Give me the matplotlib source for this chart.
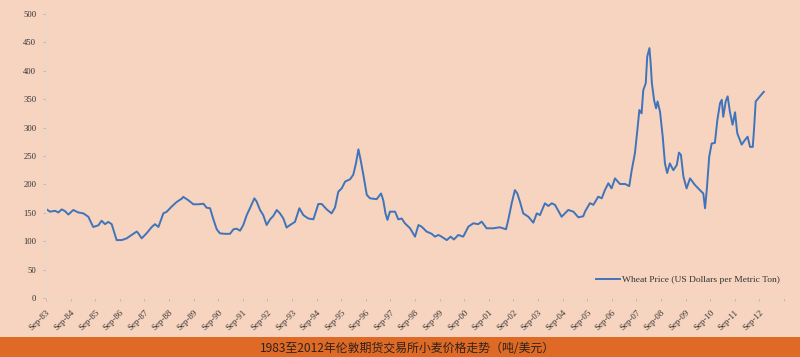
import matplotlib
matplotlib.use("Agg")
import matplotlib.pyplot as plt

# ---- data (decimal year, US$/t) ----
dates = [
    1983.70, 1983.83, 1984.04, 1984.17, 1984.31, 1984.44, 1984.58, 1984.78, 1984.98, 1985.19,
    1985.39, 1985.59, 1985.80, 1985.93, 1986.07, 1986.20, 1986.34, 1986.54, 1986.75, 1986.95,
    1987.15, 1987.36, 1987.42, 1987.56, 1987.76, 1987.97, 1988.10, 1988.24, 1988.44, 1988.58,
    1988.78, 1988.98, 1989.19, 1989.25, 1989.46, 1989.66, 1989.86, 1990.07, 1990.20, 1990.34,
    1990.47, 1990.61, 1990.74, 1990.95, 1991.15, 1991.29, 1991.42, 1991.56, 1991.69, 1991.83,
    1991.96, 1992.14, 1992.23, 1992.37, 1992.50, 1992.64, 1992.78, 1992.91, 1993.05, 1993.18,
    1993.32, 1993.45, 1993.59, 1993.79, 1993.97, 1994.13, 1994.33, 1994.54, 1994.74, 1994.88,
    1995.08, 1995.28, 1995.42, 1995.55, 1995.69, 1995.83, 1996.03, 1996.16, 1996.27, 1996.37,
    1996.46, 1996.57, 1996.71, 1996.84, 1997.11, 1997.29, 1997.38, 1997.47, 1997.55, 1997.65,
    1997.86, 1997.99, 1998.13, 1998.26, 1998.47, 1998.67, 1998.81, 1998.94, 1999.14, 1999.35,
    1999.48, 1999.62, 1999.75, 1999.96, 2000.12, 2000.25, 2000.43, 2000.63, 2000.84, 2001.04,
    2001.24, 2001.38, 2001.58, 2001.85, 2002.12, 2002.37, 2002.46, 2002.60, 2002.73, 2002.83,
    2002.94, 2003.07, 2003.28, 2003.48, 2003.62, 2003.75, 2003.95, 2004.09, 2004.23, 2004.36,
    2004.63, 2004.90, 2005.11, 2005.31, 2005.51, 2005.58, 2005.78, 2005.92, 2006.12, 2006.26,
    2006.39, 2006.53, 2006.66, 2006.80, 2007.00, 2007.21, 2007.38, 2007.48, 2007.61, 2007.71,
    2007.79, 2007.88, 2007.95, 2008.05, 2008.11, 2008.20, 2008.25, 2008.30, 2008.39, 2008.47,
    2008.53, 2008.63, 2008.74, 2008.83, 2008.92, 2009.03, 2009.17, 2009.31, 2009.40, 2009.48,
    2009.58, 2009.71, 2009.85, 2010.05, 2010.25, 2010.39, 2010.46, 2010.53, 2010.63, 2010.73,
    2010.86, 2010.96, 2011.07, 2011.14, 2011.20, 2011.30, 2011.38, 2011.47, 2011.58, 2011.68,
    2011.77, 2011.95, 2012.08, 2012.19, 2012.29, 2012.40, 2012.45, 2012.52, 2012.69, 2012.85,
]
prices = [
    156, 152, 153.5, 150.6, 156, 153, 147, 155, 150.6, 149,
    143, 125, 128, 136, 130, 134, 130, 102, 102, 105,
    111, 117, 114, 105, 114, 125, 130, 125, 149, 152,
    161, 169, 175, 178, 172, 165, 165, 166, 159, 158,
    139, 121, 113.8, 113, 113, 121, 122, 118.5, 128.5, 146,
    158, 175.5, 170, 155, 146, 128.5, 138.5, 144.5, 155, 149,
    140, 124, 128.5, 134, 158, 146, 140, 138.5, 165.5, 165.5,
    156, 149, 159.5, 187, 193, 205, 209, 217, 237, 261.7,
    243, 217, 181.5, 175.5, 174, 184, 172, 149, 137.5, 152,
    152, 138.5, 140, 131.5, 122.7, 108, 128.5, 125.6, 117, 113,
    108, 111, 108, 102, 108, 103, 111, 108, 125.6, 131.5,
    130, 134.5, 122.7, 122.7, 124.5, 121, 137.3, 166.7, 190, 184,
    169, 149, 143, 132.6, 149, 146, 166.7, 162, 166.7, 164,
    143, 155, 152, 142, 144, 152, 167, 164, 178.4, 175.5,
    190, 202, 193, 210.6, 200.7, 200.7, 197, 225, 255, 296,
    331, 325, 366, 378, 425, 440, 413, 378, 348, 334,
    346, 328, 284, 237, 220, 237, 225, 234, 256, 252,
    214, 193, 210.6, 199, 190, 184, 158, 190, 249, 272,
    273, 313, 343, 349, 319, 346, 355, 328, 305, 327,
    290, 270, 278, 284, 266, 266, 296, 346, 355, 363,
]
tick_years = [1983.67 + i for i in range(31)]
tick_labels = ["Sep-%02d" % ((83 + i) % 100) for i in range(30)] + [""]
y_ticks = [0, 50, 100, 150, 200, 250, 300, 350, 400, 450, 500]
series_name = "Wheat Price (US Dollars per Metric Ton)"
caption = "1983至2012年伦敦期货交易所小麦价格走势（吨/美元）"

BG = "#F6D4BF"
LINE = "#3F74BA"
BAND = "#DF6A26"

fig = plt.figure(figsize=(8, 3.57), dpi=100, facecolor=BG)
ax = fig.add_axes([46 / 800, 1 - 298 / 357, 738 / 800, 284 / 357])
ax.set_facecolor(BG)

ax.plot(dates, prices, color=LINE, lw=1.4, label=series_name)

ax.set_xlim(tick_years[0], tick_years[-1])
ax.set_ylim(0, 500)
ax.set_xticks(tick_years)
ax.set_xticklabels(tick_labels, rotation=45, ha="right", rotation_mode="anchor",
                   fontsize=6.4, family="Liberation Serif", color="#333333")
ax.set_yticks(y_ticks)
ax.set_yticklabels([str(v) for v in y_ticks], fontsize=6.2, family="Liberation Serif",
                   color="#333333")
ax.tick_params(axis="x", length=2.5, width=0.5, color="#b8a89c", pad=5)
ax.tick_params(axis="y", length=2, width=0.5, color="#b8a89c", pad=5)
for s in ["top", "right"]:
    ax.spines[s].set_visible(False)
for s in ["left", "bottom"]:
    ax.spines[s].set_color("#eadacd")
    ax.spines[s].set_linewidth(0.8)

leg = ax.legend(loc="lower right", bbox_to_anchor=(1.002, 0.03), frameon=False,
                prop={"family": "Liberation Serif", "size": 6.8}, handlelength=2.5,
                handletextpad=0.2, borderaxespad=0.2)
for t in leg.get_texts():
    t.set_color("#333333")

# bottom caption band
fig.patches.append(plt.Rectangle((0, 0), 1, 20 / 357, transform=fig.transFigure,
                                 facecolor=BAND, edgecolor="none", zorder=0))
fig.text(0.509, 8.5 / 357, caption, ha="center", va="center", fontsize=8.6,
         family=["Noto Sans CJK SC", "DejaVu Sans"], color="#2e221a")

fig.savefig("out.png", dpi=100, facecolor=BG)
